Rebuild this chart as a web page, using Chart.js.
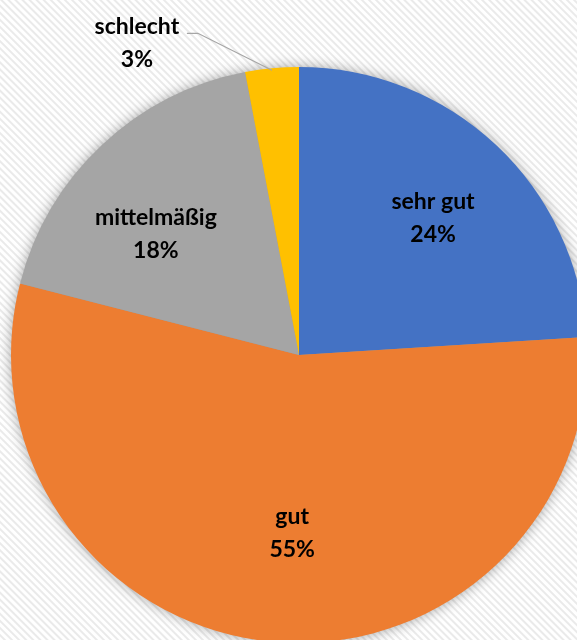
<!DOCTYPE html>
<html>
<head>
<meta charset="utf-8">
<script src="https://cdn.jsdelivr.net/npm/chart.js@4/dist/chart.umd.min.js"></script>
<style>
  html, body { margin: 0; padding: 0; }
  #wrap {
    position: relative;
    width: 577px;
    height: 640px;
    overflow: hidden;
    background: repeating-linear-gradient(45deg, #ffffff 0px, #ffffff 2px, #eaeaea 3px, #eaeaea 4px, #ffffff 5px);
  }
  #myChart { position: absolute; left: 0; top: 0; }
</style>
</head>
<body>
<div id="wrap"><canvas id="myChart" width="600" height="700"></canvas></div>
<script>
const categories = ['sehr gut', 'gut', 'mittelmäßig', 'schlecht'];
const shares = [24, 55, 18, 3];
const sliceColors = ['#4472C4', '#ED7D31', '#A5A5A5', '#FFC000'];

// label placement per slice: radius factor + small nudges (outside = leader line)
const labelPlace = [
  { f: 0.68, dx: 0, dy: 5 },
  { f: 0.62, dx: 10, dy: 0 },
  { f: 0.655, dx: -14, dy: 16 },
  { outside: true }
];

const shadowPlugin = {
  id: 'pieShadow',
  beforeDatasetsDraw(chart) {
    const arc = chart.getDatasetMeta(0).data[0];
    if (!arc) return;
    const ctx = chart.ctx;
    ctx.save();
    ctx.shadowColor = 'rgba(0,0,0,0.4)';
    ctx.shadowBlur = 14;
    ctx.fillStyle = '#999';
    ctx.beginPath();
    ctx.arc(arc.x, arc.y, arc.outerRadius - 1, 0, Math.PI * 2);
    ctx.fill();
    ctx.restore();
  }
};

const labelPlugin = {
  id: 'pieLabels',
  afterDatasetsDraw(chart) {
    const ctx = chart.ctx;
    const arcs = chart.getDatasetMeta(0).data;
    ctx.save();
    ctx.font = 'bold 23px Lato';
    ctx.fillStyle = '#000';
    ctx.textAlign = 'center';
    ctx.textBaseline = 'middle';
    arcs.forEach((arc, i) => {
      const mid = (arc.startAngle + arc.endAngle) / 2;
      const p = labelPlace[i];
      const pct = shares[i] + '%';
      if (p.outside) {
        const ex = arc.x + arc.outerRadius * Math.cos(mid);
        const ey = arc.y + arc.outerRadius * Math.sin(mid) + 2;
        const bx = ex - 74;
        const by = ey - 37;
        const lx = bx - 11;
        ctx.strokeStyle = '#A6A6A6';
        ctx.lineWidth = 1.3;
        ctx.beginPath();
        ctx.moveTo(ex, ey);
        ctx.lineTo(bx, by);
        ctx.lineTo(lx, by);
        ctx.stroke();
        const tx = lx - 50;
        ctx.fillText(categories[i], tx, by - 7);
        ctx.fillText(pct, tx, by + 26);
      } else {
        const r = arc.outerRadius * p.f;
        const cx = arc.x + r * Math.cos(mid) + p.dx;
        const cy = arc.y + r * Math.sin(mid) + p.dy;
        ctx.fillText(categories[i], cx, cy - 16);
        ctx.fillText(pct, cx, cy + 17);
      }
    });
    ctx.restore();
  }
};

const ctx = document.getElementById('myChart').getContext('2d');
const myChart = new Chart(ctx, {
  type: 'pie',
  data: {
    labels: categories,
    datasets: [
      {
        data: shares,
        backgroundColor: sliceColors,
        borderWidth: 0,
      },
    ],
  },
  options: {
    responsive: false,
    animation: false,
    layout: {
      padding: { left: 11, top: 67, right: 13, bottom: 57 },
    },
    plugins: {
      legend: { display: false },
      tooltip: { enabled: false },
    },
  },
  plugins: [shadowPlugin, labelPlugin],
});
</script>
</body>
</html>
